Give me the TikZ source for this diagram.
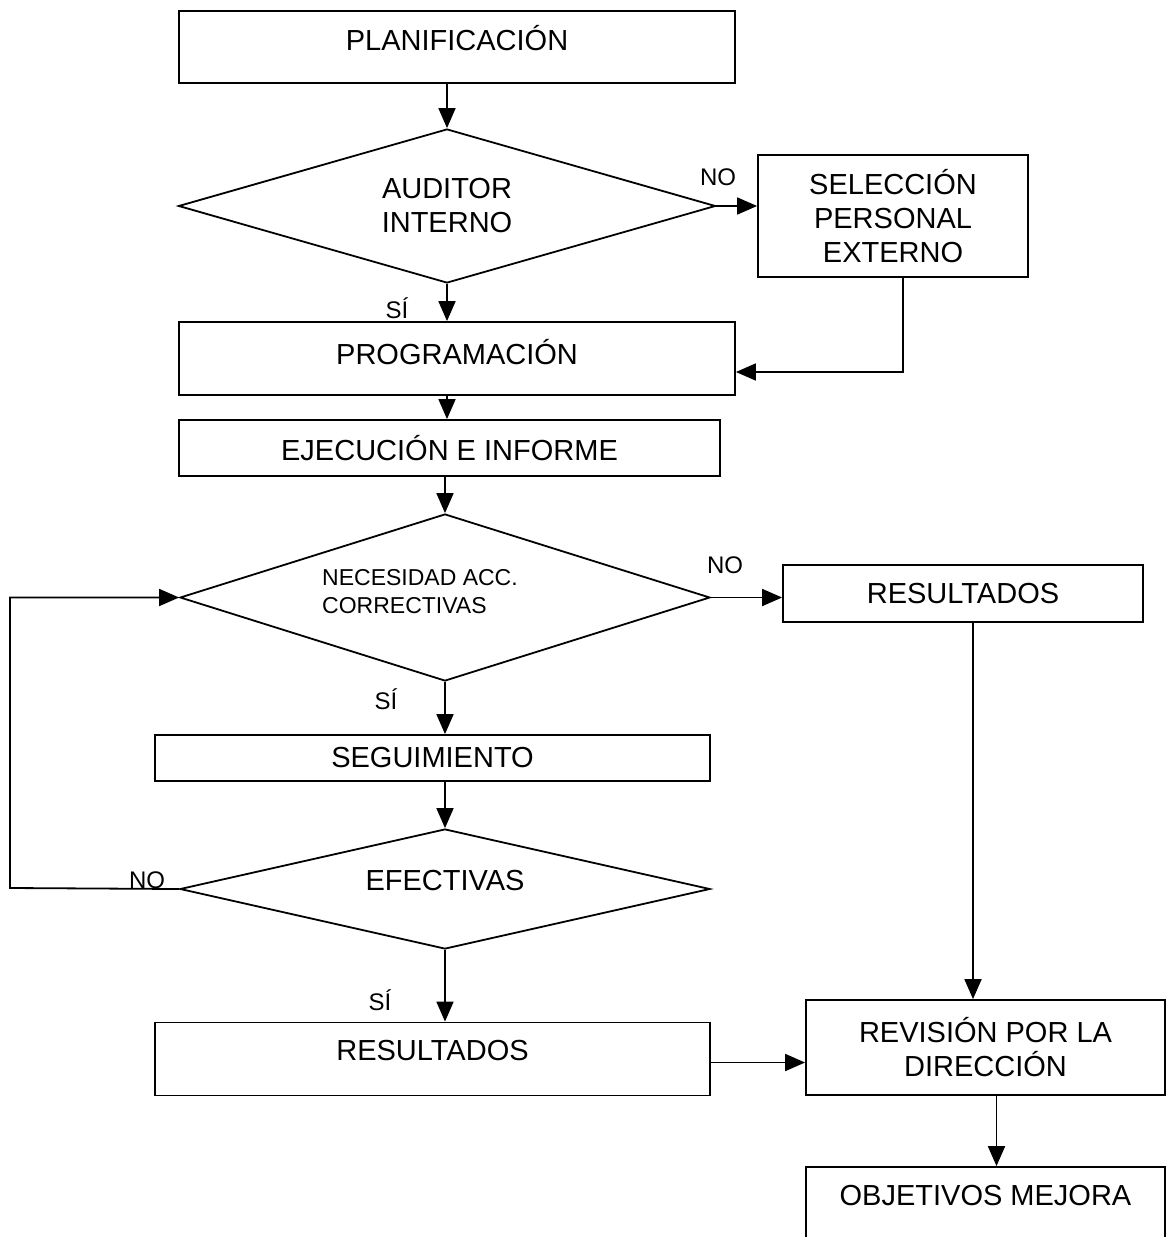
\documentclass[tikz,border=0pt]{standalone}
\usepackage{fontspec}
\setmainfont{Liberation Sans}
\usetikzlibrary{shapes.geometric,arrows.meta}
\newcommand\bfnt{\fontsize{29}{34}\selectfont}
\newcommand\mfnt{\fontsize{23}{28}\selectfont}
\newcommand\lfnt{\fontsize{24}{28}\selectfont}
\begin{document}
\begin{tikzpicture}[x=1pt,y=-1pt,
  box/.style={draw, line width=1.8pt, rectangle, inner sep=0pt, font=\bfnt, align=center},
  dec/.style={draw, line width=1.8pt, diamond, inner sep=0pt, font=\bfnt, align=center},
  arr/.style={line width=1.8pt, -{Triangle[length=20pt,width=17pt]}},
  lab/.style={font=\lfnt, inner sep=0pt}]
\fill[white] (0,0) rectangle (1166,1237);
\clip (0,0) rectangle (1166,1237);

\node[box, minimum width=556, minimum height=72] (plan) at (457,47) {\raisebox{18pt}{PLANIFICACIÓN}};
\node[dec, aspect=3.49, minimum width=537, minimum height=154] (aud) at (447,206) {AUDITOR\\INTERNO};
\node[box, minimum width=270, minimum height=122] (sel) at (893,216) {SELECCIÓN\\PERSONAL\\EXTERNO};
\node[box, minimum width=556, minimum height=73] (prog) at (457,358.5) {\raisebox{14pt}{PROGRAMACIÓN}};
\node[box, minimum width=541, minimum height=56] (eje) at (449.5,448) {EJECUCIÓN E INFORME};
\node[dec, aspect=3.17, minimum width=530, minimum height=167] (nec) at (445,597.5) {};
\node[font=\mfnt, align=left, inner sep=0pt] (nectxt) at (420,592) {NECESIDAD ACC.\\CORRECTIVAS};
\node[box, minimum width=360, minimum height=57] (res1) at (963,593.5) {RESULTADOS};
\node[box, minimum width=555, minimum height=46] (seg) at (432.5,758) {SEGUIMIENTO};
\node[dec, aspect=4.42, minimum width=530, minimum height=120] (efe) at (445,889) {\raisebox{18pt}{EFECTIVAS}};
\node[box, minimum width=555, minimum height=73] (res2) at (432.5,1059) {\raisebox{18pt}{RESULTADOS}};
\node[box, minimum width=359, minimum height=95] (rev) at (985.5,1047.5) {REVISIÓN POR LA\\DIRECCIÓN};
\node[box, minimum width=359, minimum height=100] (obj) at (985.5,1217) {\raisebox{44pt}{OBJETIVOS MEJORA}};

\node[lab] (no1) at (718,177) {NO};
\node[lab] (si1) at (397,308) {SÍ};
\node[lab] (no2) at (725,565) {NO};
\node[lab] (si2) at (386,699) {SÍ};
\node[lab] (no3) at (147,880) {NO};
\node[lab] (si3) at (380,1000) {SÍ};

\coordinate (lc1) at (10,888);
\coordinate (lc2) at (10,597.5);

\draw[arr] (aud.north |- plan.south) -- (aud.north);
\draw[arr] (aud.east) -- (sel.west |- aud.east);
\draw[arr] (aud.south) -- (aud.south |- prog.north);
\draw[arr] ([xshift=10pt]sel.south) |- ([yshift=-13.5pt]prog.east);
\draw[arr] (aud.south |- prog.south) -- (aud.south |- eje.north);
\draw[arr] (nec.north |- eje.south) -- (nec.north);
\draw[arr] (nec.east) -- (res1.west |- nec.east);
\draw[arr] (nec.south) -- (nec.south |- seg.north);
\draw[arr] (efe.north |- seg.south) -- (efe.north);
\draw[arr] (efe.west) -- (lc1) -- (lc2) -- (nec.west);
\draw[arr] (efe.south) -- (efe.south |- res2.north);
\draw[arr] ([xshift=10pt]res1.south) -- ([xshift=10pt]res1.south |- rev.north);
\draw[arr] ([yshift=-3.5pt]res2.east) -- ([yshift=-3.5pt]res2.east -| rev.west);
\draw[arr] ([xshift=11pt]rev.south) -- ([xshift=11pt]obj.north);
\end{tikzpicture}
\end{document}
